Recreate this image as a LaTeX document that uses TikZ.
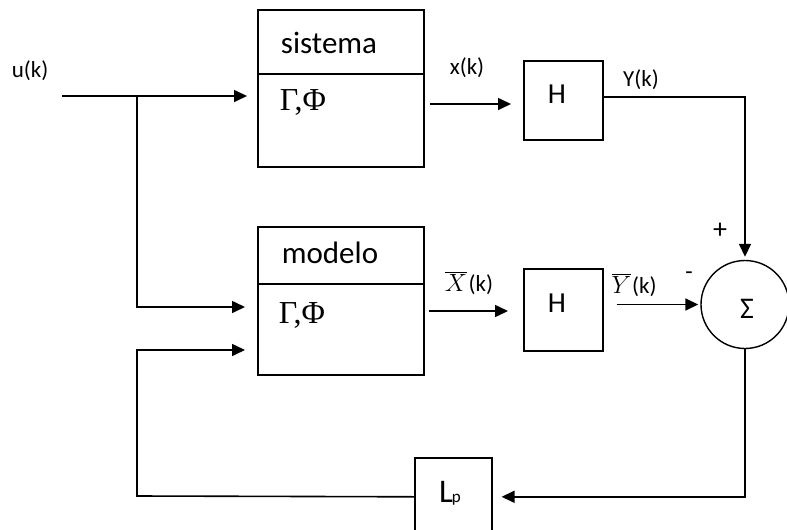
\documentclass[tikz,border=0pt]{standalone}
\usepackage{fontspec}
\setmainfont{Carlito}
\newfontfamily\serifgr{Liberation Serif}
\usetikzlibrary{arrows.meta}
\begin{document}
\begin{tikzpicture}[x=1pt,y=-1pt,line width=1.6pt,
  blk/.style={draw,line width=1.6pt,inner sep=0pt,anchor=north west},
  flow/.style={-{Triangle[length=13pt,width=12pt]}},
  lbl/.style={anchor=base,inner sep=0pt,font=\fontsize{23}{23}\selectfont},
  ttl/.style={anchor=base,inner sep=0pt,font=\fontsize{31}{31}\selectfont},
  grk/.style={anchor=base,inner sep=0pt,font=\serifgr\fontsize{32}{32}\selectfont},
  hh/.style={anchor=base,inner sep=0pt,font=\fontsize{29}{29}\selectfont}]
\useasboundingbox (0,0) rectangle (787,530);
% blocks
\node[blk,minimum width=166pt,minimum height=157pt] (sis) at (257,9) {};
\node[blk,minimum width=166pt,minimum height=148pt] (mod) at (257,226) {};
\node[blk,minimum width=79pt,minimum height=79pt] (h1) at (523,60) {};
\node[blk,minimum width=79pt,minimum height=82pt] (h2) at (523,268) {};
\node[blk,minimum width=77pt,minimum height=78pt] (lp) at (414,457) {};
\node[draw,circle,line width=1.4pt,minimum size=88pt,inner sep=0pt] (sig) at (745,304.5) {};
% dividers
\coordinate (d1) at (0,74);
\coordinate (d2) at (0,284);
\draw (sis.west |- d1) -- (sis.east |- d1);
\draw (mod.west |- d2) -- (mod.east |- d2);
% texts
\node[lbl] (tu) at (30,77.5) {u(k)};
\node[ttl] (tsis) at (329,53) {sistema};
\node[grk] (tg1) at (303,110) {Γ,Φ};
\node[lbl] (tx) at (467,74) {x(k)};
\node[hh] (th1) at (557,103) {H};
\node[lbl] (ty) at (641,86) {Y(k)};
\node[ttl] (tmod) at (330,263) {modelo};
\node[grk] (tg2) at (302,323) {Γ,Φ};
\node[lbl] (txb) at (469,291) {$\overline{X}$\kern1.5pt(k)};
\node[hh] (th2) at (557,312) {H};
\node[lbl] (tyb) at (634,293) {$\overline{Y}$\kern1pt(k)};
\node[anchor=base,inner sep=0pt,font=\fontsize{30}{30}\selectfont] (tsum) at (747,318) {Σ};
\node[anchor=base,inner sep=0pt] (tlp) at (450,502) {\fontsize{33}{33}\selectfont L\kern-1pt\fontsize{17}{17}\selectfont p};
\node[inner sep=0pt,font=\fontsize{28}{28}\selectfont] (tplus) at (720,231) {+};
\node[inner sep=0pt,font=\fontsize{24}{24}\selectfont] (tminus) at (689,276) {-};
% connectors
\coordinate (uin) at (62,96);
\coordinate (br) at (137,96);
\coordinate (ym1) at (0,307);
\coordinate (ym2) at (0,350);
\coordinate (yx) at (0,104);
\coordinate (yy) at (0,97);
\coordinate (yxb) at (0,311);
\coordinate (fl) at (137,496);
\draw[flow,shorten >=10pt] (uin) -- (sis.west |- uin);
\draw[flow,shorten >=12pt] (br) |- (mod.west |- ym1);
\draw[flow,shorten <=5pt,shorten >=12pt] (sis.east |- yx) -- (h1.west |- yx);
\draw[flow,shorten >=3pt] (h1.east |- yy) -| (sig.north);
\draw[flow,shorten <=4pt,shorten >=15pt] (mod.east |- yxb) -- (h2.west |- yxb);
\draw[flow,shorten <=13pt,shorten >=2pt] (h2.east |- sig.west) -- (sig.west);
\draw[flow,shorten >=9pt] (sig.south) |- (lp.east);
\draw[flow,shorten >=12pt] (lp.west) -- (fl) |- (mod.west |- ym2);
\end{tikzpicture}
\end{document}
